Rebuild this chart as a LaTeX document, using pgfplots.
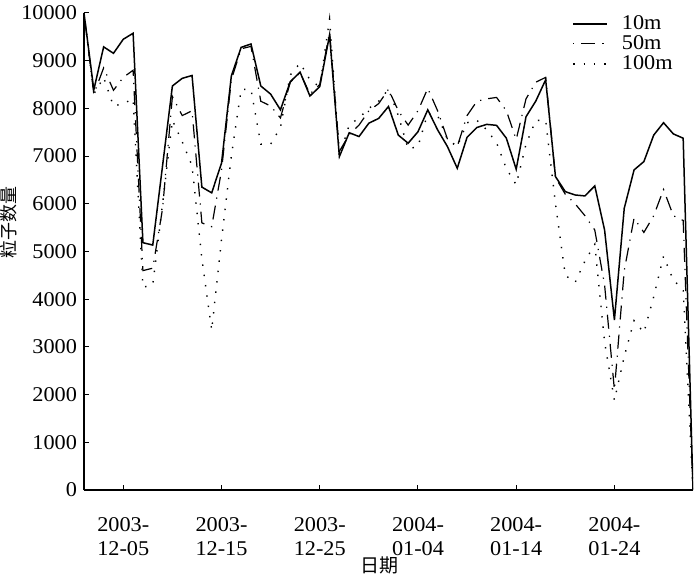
\documentclass[border=0pt]{standalone}
\usepackage{fontspec}
\setmainfont{Liberation Serif}[FakeStretch=1.06]
\newfontfamily\cjk{Noto Sans CJK SC}
\usepackage{pgfplots}
\pgfplotsset{compat=1.18}
\usepackage{pgfplotstable}

\pgfplotstableread{
d a b c
0 10000 10000 10000
1 8390 8300 8300
2 9290 8850 8650
3 9155 8380 8050
4 9450 8650 8100
5 9575 8800 8200
6 5185 4600 4250
7 5135 4650 4300
8 6800 5900 6000
9 8470 8250 7750
10 8630 7850 7300
11 8690 7950 6800
12 6350 5600 4850
13 6230 5520 3350
14 6850 6700 5250
15 8680 8600 7000
16 9280 9250 8400
17 9350 9300 8400
18 8470 8150 7250
19 8300 8050 7250
20 7970 7800 7600
21 8560 8550 8700
22 8760 8750 8950
23 8260 8300 8600
24 8455 8500 8450
25 9540 9600 9870
26 6990 7100 7000
27 7490 7450 7650
28 7410 7650 7800
29 7690 7950 8000
30 7790 8100 8150
31 8040 8400 8400
32 7440 7950 7850
33 7270 7650 7150
34 7510 7950 7200
35 7970 8420 7900
36 7550 7950 7850
37 7200 7360 7350
38 6745 7200 7200
39 7395 7850 7700
40 7600 8150 7750
41 7665 8200 7550
42 7645 8230 7280
43 7375 7950 6740
44 6725 7350 6400
45 7825 8200 7250
46 8155 8550 7750
47 8600 8650 7750
48 6570 6550 6000
49 6255 6200 4500
50 6185 6000 4350
51 6165 5750 4800
52 6375 5450 5150
53 5450 4300 3100
54 3565 2100 1880
55 5905 4600 2800
56 6710 5700 3550
57 6885 5400 3300
58 7440 5750 4050
59 7700 6300 4900
60 7465 5750 4400
61 7375 5650 4200
62 0 0 0
}\data

\begin{document}
\begin{tikzpicture}
\begin{axis}[
  scale only axis, width=304.5pt, height=238.5pt,
  xmin=0, xmax=62, ymin=0, ymax=10000,
  axis x line*=bottom, axis y line*=left,
  axis line style={-, line width=0.6pt},
  xtick={4,14,24,34,44,54},
  xticklabels={{2003-\\12-05},{2003-\\12-15},{2003-\\12-25},{2004-\\01-04},{2004-\\01-14},{2004-\\01-24}},
  xticklabel style={align=center, font=\fontsize{10.5}{12}\selectfont, yshift=-10pt},
  ytick={0,1000,...,10000},
  scaled y ticks=false,
  /pgf/number format/1000 sep={},
  /pgf/number format/assume math mode=true,
  yticklabel style={font=\fontsize{10.5}{12}\selectfont},
  tick align=inside, major tick length=2.5pt,
  tick style={black, line width=0.5pt},
  xlabel={\cjk 日期},
  ylabel={\cjk 粒子数量},
  xlabel style={font=\fontsize{9.5}{11}\selectfont, at={(axis description cs:0.486,-0.158)}, anchor=center},
  ylabel style={font=\fontsize{9}{11}\selectfont, at={(axis description cs:-0.123,0.56)}, anchor=center},
  legend style={draw=none, fill=none, at={(1,1)}, anchor=north east, xshift=-5pt, yshift=3pt, font=\fontsize{10.5}{12}\selectfont, row sep=-2.5pt, /tikz/every odd column/.append style={column sep=5pt}},
  legend cell align=left,
  legend image code/.code={\draw[#1] (0pt,0pt) -- (17pt,0pt);},
]
\addplot[black, line width=0.75pt] table[x=d, y=a] {\data};
\addlegendentry{10m}
\addplot[black, line width=0.6pt, dash pattern=on 0.6pt off 3.5pt on 7pt off 3.5pt] table[x=d, y=b] {\data};
\addlegendentry{50m}
\addplot[black, line width=0.7pt, dash pattern=on 0.7pt off 4.5pt] table[x=d, y=c] {\data};
\addlegendentry{100m}
\end{axis}
\pgfresetboundingbox
\path[use as bounding box] (-42pt,-44pt) rectangle (305pt,245pt);
\end{tikzpicture}
\end{document}
